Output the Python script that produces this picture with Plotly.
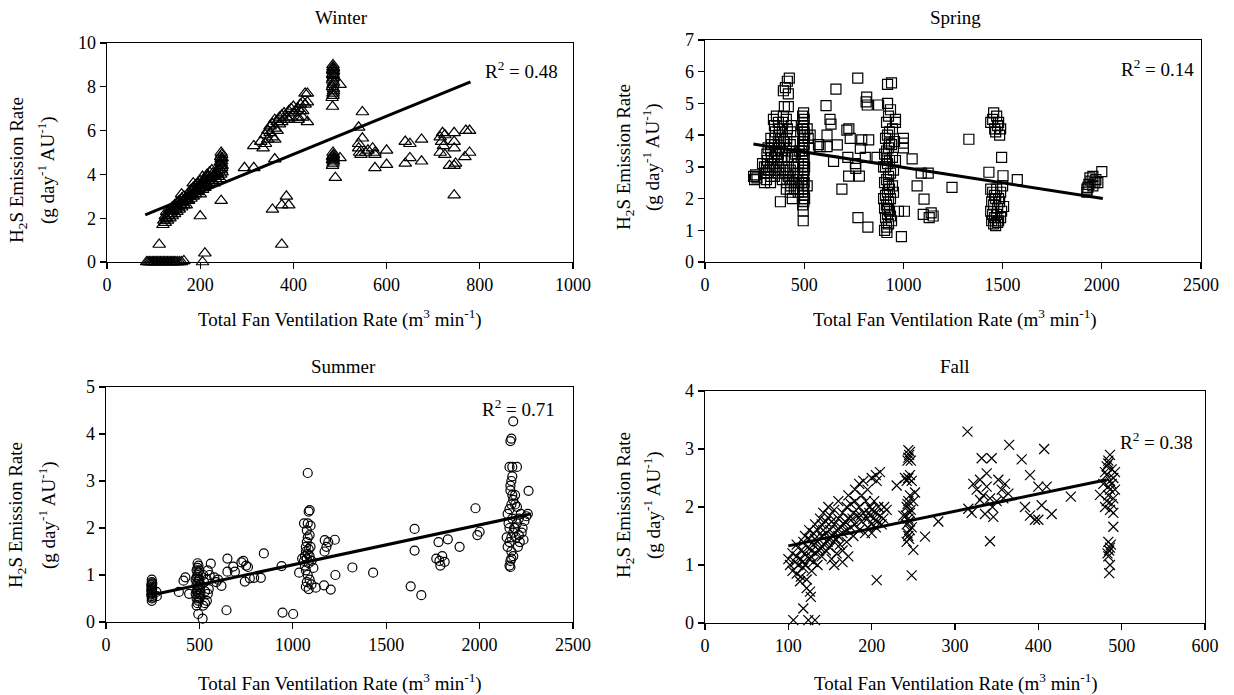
import plotly.graph_objects as go

# ---------------- data ----------------
winter_pts = [
    (85, 0), (88, 0), (91, 0), (94, 0), (97, 0), (100, 0), (103, 0), (106, 0), (109, 0), (112, 0),
    (115, 0), (118, 0), (121, 0), (124, 0), (127, 0), (130, 0), (133, 0), (136, 0), (139, 0), (142, 0),
    (145, 0), (148, 0), (152, 0), (156, 0), (160, 0), (165, 0.05), (205, 0),
    (112, 0.8), (210, 0.4), (200, 2.1), (245, 2.8), (375, 0.8),
    (120, 1.7), (122, 1.9), (125, 2.1), (125, 1.8), (128, 2.0), (128, 2.3), (130, 1.9), (132, 2.2),
    (135, 2.0), (135, 2.4), (138, 2.2), (140, 2.5), (140, 2.1), (143, 2.3), (145, 2.6), (145, 2.2),
    (148, 2.4), (150, 2.7), (150, 2.3), (153, 2.5), (155, 2.8), (155, 2.4), (158, 2.6), (160, 2.9),
    (160, 2.5), (163, 2.7), (165, 3.0), (165, 2.6), (168, 2.8), (170, 2.9), (170, 2.6), (173, 3.0),
    (175, 2.8), (178, 3.1), (180, 2.9), (180, 3.3), (183, 3.1), (185, 3.4), (185, 3.0), (188, 3.2),
    (190, 3.5), (190, 3.1), (193, 3.3), (195, 3.6), (195, 3.2), (198, 3.4), (200, 3.7), (200, 3.1),
    (202, 3.5), (205, 3.9), (205, 3.3), (208, 3.6), (210, 3.4), (210, 3.8), (213, 3.6), (215, 4.0),
    (215, 3.5), (218, 3.7), (220, 4.1), (220, 3.6), (223, 3.8), (225, 4.2), (225, 3.7), (228, 3.9),
    (230, 4.0), (230, 3.6), (233, 3.8), (235, 4.1), (238, 3.9), (240, 4.2),
    (126, 2.0), (133, 2.1), (142, 2.35), (152, 2.55), (162, 2.75), (172, 2.85), (182, 3.05),
    (192, 3.25), (203, 3.45), (212, 3.65), (222, 3.85), (232, 3.95),
    (137, 2.3), (147, 2.5), (157, 2.7), (167, 2.9), (177, 3.0), (187, 3.35), (197, 3.5),
    (207, 3.75), (217, 3.9), (227, 4.05), (237, 4.05), (160, 3.1), (185, 3.6),
    (243, 3.8), (244, 4.0), (245, 4.2), (246, 4.3), (244, 4.4), (245, 4.5), (246, 4.6), (245, 4.7),
    (244, 4.8), (246, 4.9), (245, 5.0), (247, 4.1), (247, 4.4), (243, 4.55), (247, 4.75),
    (295, 4.3), (315, 4.3), (360, 4.7), (355, 2.4), (375, 2.6), (385, 3.0), (390, 2.6),
    (315, 5.3), (330, 5.5), (335, 5.2), (340, 5.4), (340, 5.8), (345, 5.6), (345, 6.0), (350, 6.2),
    (350, 5.9), (355, 6.3), (355, 5.7), (360, 6.5), (360, 6.1), (360, 5.6), (365, 6.4), (365, 6.0),
    (370, 6.6), (370, 6.3), (375, 6.7), (375, 6.4), (380, 6.5), (380, 6.8), (385, 6.6), (390, 6.9),
    (390, 6.5), (395, 7.0), (395, 6.6), (400, 6.8), (400, 7.1), (405, 6.9), (410, 7.0), (410, 6.6),
    (410, 6.5), (415, 7.2), (415, 6.9), (420, 7.3), (420, 6.9), (420, 6.6), (425, 7.7), (425, 7.2),
    (430, 7.7), (430, 7.3), (430, 6.4),
    (483, 7.5), (485, 7.6), (486, 7.8), (484, 8.0), (485, 8.1), (486, 8.2), (484, 8.3), (485, 8.4),
    (486, 8.5), (484, 8.55), (485, 8.6), (486, 8.7), (484, 8.75), (485, 8.8), (486, 8.85), (485, 8.9),
    (485, 9.0), (484, 7.1), (485, 7.7), (486, 7.9), (500, 8.1),
    (484, 4.4), (485, 4.5), (486, 4.6), (484, 4.65), (485, 4.7), (486, 4.75), (484, 4.8), (485, 4.85),
    (486, 4.9), (485, 5.0), (490, 3.85), (500, 4.75),
    (540, 6.15), (548, 6.85), (548, 5.65), (540, 5.4), (540, 5.2), (542, 5.0), (545, 4.9), (555, 5.0),
    (560, 5.1), (570, 5.2), (575, 5.0), (575, 4.9), (575, 4.3), (600, 5.1), (600, 4.45), (640, 5.5),
    (650, 5.4), (650, 4.75), (640, 4.5), (675, 5.6), (675, 4.6),
    (715, 5.7), (720, 5.9), (725, 5.8), (718, 5.5), (722, 5.3), (715, 5.0), (725, 4.9), (745, 5.9),
    (745, 5.5), (745, 5.2), (735, 4.4), (745, 4.4), (748, 4.5), (745, 3.05), (770, 6.0), (778, 6.0),
    (768, 4.8), (778, 5.0),
]
winter_fit_x = [82, 780]
winter_fit_y = [2.15, 8.22]

spring_pts = [
    (245, 2.7), (250, 2.6), (255, 2.75), (262, 2.65), (300, 2.5), (300, 2.8), (300, 3.0), (290, 3.1),
    (310, 2.6), (312, 2.8), (310, 3.0), (315, 3.2), (312, 3.4), (318, 3.6),
    (330, 2.5), (332, 2.7), (328, 2.9), (330, 3.1), (335, 3.3), (330, 3.5), (335, 3.7), (332, 3.9),
    (350, 2.7), (352, 2.9), (348, 3.1), (350, 3.3), (355, 3.5), (350, 3.7), (352, 3.9), (355, 4.1), (350, 4.3),
    (370, 2.8), (372, 3.0), (368, 3.2), (370, 3.4), (375, 3.6), (370, 3.8), (372, 4.0), (375, 4.2), (370, 4.4),
    (390, 2.6), (392, 2.9), (388, 3.2), (390, 3.5), (395, 3.8), (390, 4.1), (392, 4.4), (395, 4.6),
    (410, 2.3), (412, 2.5), (408, 2.8), (410, 3.0), (415, 3.3), (410, 3.6), (412, 3.9), (415, 4.2), (410, 4.5),
    (430, 2.2), (432, 2.4), (428, 2.6), (430, 2.9), (435, 3.3), (430, 3.7), (432, 4.1), (435, 4.3),
    (450, 2.3), (452, 2.5), (448, 2.7), (450, 3.0), (455, 3.4), (450, 3.8),
    (470, 2.2), (472, 2.5), (468, 2.8), (470, 3.1), (475, 3.5),
    (340, 3.0), (360, 3.4), (380, 3.9), (400, 3.3), (420, 2.7), (440, 3.5), (460, 2.6), (320, 2.9),
    (400, 4.9), (420, 4.9), (395, 5.4), (405, 5.5), (415, 5.7), (425, 5.8), (420, 5.3), (380, 1.9),
    (440, 2.0), (345, 4.5), (360, 4.6),
    (495, 1.3), (495, 1.6), (492, 1.8), (498, 1.9), (494, 2.0), (500, 2.1), (492, 2.2), (497, 2.3),
    (494, 2.4), (500, 2.5), (492, 2.6), (497, 2.7), (494, 2.8), (500, 2.9), (492, 3.0), (497, 3.1),
    (494, 3.2), (500, 3.3), (492, 3.4), (497, 3.5), (494, 3.6), (500, 3.7), (492, 3.8), (497, 3.9),
    (494, 4.0), (500, 4.1), (492, 4.2), (497, 4.3), (494, 4.4), (500, 4.5), (492, 4.6), (497, 4.7),
    (502, 2.0), (502, 3.0), (502, 4.0), (488, 2.5), (488, 3.5),
    (515, 4.2), (520, 3.9), (525, 3.6), (530, 4.0), (515, 2.4),
    (770, 5.8), (660, 5.45), (610, 4.93), (630, 4.5), (635, 4.35), (615, 4.0), (572, 3.7), (580, 3.64),
    (615, 3.64), (667, 3.69), (715, 4.16), (725, 4.2), (732, 3.9), (790, 3.85), (825, 3.85), (783, 3.58),
    (720, 3.3), (648, 3.17), (758, 3.1), (760, 2.95), (724, 2.71), (778, 2.71), (690, 2.3), (815, 5.2),
    (812, 5.05), (818, 4.95), (875, 4.95), (920, 5.6), (940, 5.65), (960, 4.5), (808, 3.3), (867, 3.3),
    (771, 1.4), (821, 1.1), (1000, 3.9), (1000, 3.75), (1000, 3.6), (1044, 3.25), (975, 1.6), (1005, 1.6),
    (1069, 2.4), (1090, 2.8), (1125, 2.8), (1104, 1.98), (1100, 1.5), (1130, 1.4), (1140, 1.55),
    (1150, 1.45), (1245, 2.35), (1330, 3.87), (1495, 3.3), (1431, 2.83), (1502, 2.72), (1574, 2.6),
    (990, 0.8), (917, 0.93),
    (905, 1.0), (915, 1.1), (925, 1.2), (910, 1.4), (920, 1.5), (930, 1.6), (905, 1.7), (915, 1.8),
    (925, 1.9), (935, 2.0), (910, 2.1), (920, 2.2), (930, 2.3), (945, 2.4), (905, 2.5), (915, 2.6),
    (925, 2.7), (935, 2.8), (950, 2.9), (910, 3.0), (920, 3.1), (930, 3.2), (945, 3.3), (905, 3.4),
    (915, 3.5), (925, 3.6), (940, 3.7), (955, 3.8), (910, 3.9), (920, 4.0), (930, 4.1), (945, 4.2),
    (915, 4.4), (925, 4.6), (935, 4.8), (920, 5.0), (900, 3.0), (960, 3.2), (950, 2.2), (900, 2.0),
    (960, 4.4), (940, 1.3), (925, 2.45), (915, 3.25), (930, 3.75), (920, 1.65), (935, 1.45),
    (1440, 4.4), (1455, 4.7), (1470, 4.6), (1480, 4.4), (1460, 4.2), (1475, 4.3), (1490, 4.2),
    (1450, 4.5), (1465, 4.1), (1485, 4.0),
    (1440, 2.3), (1450, 2.2), (1460, 2.1), (1470, 2.3), (1480, 2.0), (1490, 2.2), (1445, 1.9),
    (1455, 1.8), (1465, 2.0), (1475, 1.7), (1485, 1.9), (1440, 1.6), (1450, 1.5), (1460, 1.4),
    (1470, 1.5), (1480, 1.3), (1490, 1.4), (1445, 1.3), (1455, 1.2), (1465, 1.15), (1475, 1.25),
    (1500, 2.4), (1495, 1.6), (1505, 1.75),
    (1925, 2.3), (1935, 2.45), (1945, 2.55), (1955, 2.4), (1965, 2.5), (1940, 2.65), (1955, 2.7),
    (1970, 2.6), (1930, 2.35), (1980, 2.5), (2000, 2.85), (1925, 2.2),
]
spring_fit_x = [244, 2005]
spring_fit_y = [3.72, 2.0]

summer_pts = [
    (245, 0.45), (245, 0.5), (245, 0.55), (245, 0.6), (245, 0.65), (245, 0.7), (245, 0.75), (245, 0.8),
    (245, 0.85), (245, 0.9), (248, 0.52), (248, 0.62), (248, 0.72), (248, 0.82), (242, 0.58),
    (242, 0.68), (242, 0.78),
    (270, 0.64), (272, 0.55), (390, 0.64), (415, 0.88), (425, 0.95), (445, 0.6),
    (485, 0.35), (490, 0.4), (495, 0.45), (485, 0.5), (490, 0.55), (495, 0.6), (485, 0.65), (490, 0.7),
    (495, 0.75), (485, 0.8), (490, 0.85), (495, 0.9), (485, 0.95), (490, 1.0), (495, 1.05), (485, 1.1),
    (490, 1.15), (495, 1.2), (490, 1.25), (500, 0.5), (500, 0.7), (500, 0.9), (500, 1.1), (480, 0.6),
    (480, 0.9), (505, 0.8), (505, 0.6),
    (494, 0.17), (517, 0.07), (520, 0.35), (530, 0.4), (540, 0.45), (545, 0.6), (550, 0.7), (540, 0.9),
    (555, 1.0), (545, 1.1), (561, 1.24), (580, 0.95), (600, 0.9), (590, 0.85), (525, 0.85), (520, 1.0),
    (530, 0.65),
    (618, 0.77), (645, 0.25), (650, 1.35), (650, 1.07), (681, 1.18), (690, 1.07), (725, 1.27),
    (735, 1.3), (750, 1.2), (760, 1.17), (743, 0.86), (770, 0.93), (793, 0.94), (829, 0.94),
    (845, 1.46), (940, 1.19), (945, 0.2), (1002, 0.17), (1034, 1.05),
    (1060, 1.3), (1065, 1.4), (1070, 1.5), (1075, 1.35), (1080, 1.45), (1085, 1.55), (1070, 1.6),
    (1075, 1.7), (1080, 1.8), (1085, 1.25), (1090, 1.4), (1065, 1.2), (1070, 1.1), (1080, 1.0),
    (1090, 0.9), (1075, 0.85), (1085, 0.7), (1070, 0.75), (1095, 1.6), (1100, 1.3), (1090, 1.85),
    (1075, 1.95), (1080, 2.1), (1085, 2.35), (1090, 2.38), (1080, 3.17), (1095, 2.05), (1050, 1.35),
    (1110, 1.15), (1100, 0.8), (1060, 2.1),
    (1123, 0.73), (1167, 0.78), (1203, 0.69), (1171, 1.74), (1180, 1.6), (1190, 1.7), (1225, 1.75),
    (1170, 1.5), (1228, 1.0), (1319, 1.16), (1430, 1.05),
    (1652, 1.98), (1652, 1.52), (1631, 0.76), (1688, 0.57), (1768, 1.35), (1785, 1.3), (1790, 1.2),
    (1800, 1.4), (1813, 1.28), (1780, 1.7), (1830, 1.76), (1893, 1.6), (1978, 2.42), (1988, 1.85),
    (2000, 1.92),
    (2150, 1.6), (2160, 1.7), (2170, 1.8), (2180, 1.9), (2190, 2.0), (2200, 2.1), (2210, 2.2),
    (2150, 2.3), (2160, 2.4), (2170, 2.5), (2180, 2.6), (2190, 2.7), (2165, 2.8), (2175, 2.2),
    (2185, 2.0), (2195, 1.8), (2205, 1.6), (2215, 1.7), (2225, 1.9), (2235, 1.75), (2240, 2.15),
    (2220, 2.3), (2230, 2.0), (2160, 2.0), (2170, 1.5), (2180, 1.4), (2165, 1.3), (2155, 2.1),
    (2145, 1.8), (2175, 2.7), (2170, 3.0), (2175, 3.3), (2200, 3.3), (2160, 3.3), (2165, 3.85),
    (2170, 3.9), (2180, 4.27), (2165, 2.9), (2175, 3.1), (2160, 1.2), (2165, 1.17), (2170, 1.35),
    (2190, 2.5), (2262, 2.79), (2258, 2.3), (2250, 2.25), (2200, 2.45), (2210, 1.85),
]
summer_fit_x = [250, 2275]
summer_fit_y = [0.58, 2.3]

fall_pts = [
    (106, 0.05), (124, 0.05), (132, 0.05), (118, 0.25), (127, 0.45), (126, 0.54), (114, 0.72), (122, 0.6),
    (100, 1.1), (102, 1.0), (105, 0.9), (105, 1.2), (108, 1.05), (110, 0.85), (110, 1.15), (110, 1.35),
    (112, 1.0), (115, 0.8), (115, 1.1), (115, 1.25), (118, 1.4), (118, 0.95), (120, 1.2), (120, 1.0),
    (120, 1.5), (122, 0.75), (123, 1.3), (125, 1.1), (125, 1.45), (125, 1.6), (128, 0.9), (128, 1.25),
    (130, 1.35), (130, 1.55), (130, 1.05), (132, 1.7), (133, 1.2), (135, 1.4), (135, 1.0), (135, 1.6),
    (138, 1.3), (138, 1.8), (140, 1.5), (140, 1.15), (140, 1.7), (142, 1.9), (143, 1.35), (145, 1.55),
    (145, 1.25), (145, 1.75), (148, 1.45), (148, 2.0), (150, 1.6), (150, 1.3), (150, 1.85), (152, 1.1),
    (153, 1.5), (155, 1.7), (155, 1.4), (155, 1.95), (155, 1.0), (158, 1.6), (158, 1.2), (160, 1.8),
    (160, 1.5), (160, 2.1), (162, 1.35), (163, 1.65), (165, 1.9), (165, 1.55), (165, 1.25), (165, 1.05),
    (168, 1.75), (170, 2.0), (170, 1.6), (170, 1.4), (172, 2.2), (172, 1.15), (173, 1.8), (175, 1.65),
    (175, 2.05), (178, 1.5), (178, 1.9), (180, 2.3), (180, 1.7), (180, 2.1), (183, 1.85), (185, 2.4),
    (185, 1.6), (185, 2.0), (188, 2.2), (188, 1.75), (190, 1.9), (190, 2.45), (192, 1.55), (193, 2.1),
    (195, 1.8), (195, 2.3), (195, 1.65), (198, 2.0), (198, 1.85), (200, 1.7), (200, 1.95), (200, 2.5),
    (200, 1.55), (202, 1.8), (203, 2.1), (205, 1.9), (205, 1.65), (205, 2.55), (207, 1.75), (208, 2.0),
    (210, 1.85), (210, 2.6), (212, 1.7), (215, 2.0), (214, 1.8), (206, 2.45),
    (117, 1.05), (127, 1.15), (137, 1.25), (147, 1.4), (157, 1.45), (167, 1.7), (177, 1.8),
    (187, 1.85), (197, 1.9), (132, 1.45), (142, 1.6), (152, 1.75),
    (206, 0.74), (230, 2.37), (218, 1.95),
    (242, 1.4), (244, 1.5), (246, 1.6), (242, 1.7), (244, 1.8), (246, 1.9), (242, 2.0), (244, 2.1),
    (246, 2.2), (243, 1.55), (245, 1.75), (247, 1.95), (243, 2.05), (245, 1.45), (241, 1.85),
    (248, 1.65), (242, 2.45), (244, 2.5), (246, 2.55), (248, 2.45), (243, 2.8), (244, 2.85),
    (245, 2.9), (246, 2.95), (247, 2.8), (244, 2.98), (252, 2.25), (250, 1.26), (248, 0.82),
    (238, 1.85), (250, 2.1), (240, 2.5),
    (264, 1.49), (280, 1.75), (315, 3.3), (316, 1.97), (320, 1.9),
    (322, 2.4), (326, 2.3), (330, 2.47), (334, 2.2), (338, 2.35), (342, 2.15), (330, 2.12), (332, 2.84),
    (344, 2.84), (338, 2.58), (342, 1.41), (336, 1.88), (346, 1.83), (352, 2.47), (356, 2.3),
    (360, 2.4), (364, 2.23), (358, 2.15), (365, 3.07), (380, 2.82), (390, 2.55), (384, 2.0),
    (390, 1.85), (396, 1.78), (400, 1.78), (404, 2.03), (400, 2.35), (410, 2.35), (407, 3.0),
    (416, 1.88), (439, 2.18), (474, 2.21), (350, 2.1), (345, 2.0),
    (480, 2.0), (482, 2.1), (484, 2.2), (486, 2.3), (488, 2.4), (490, 2.5), (480, 2.6), (482, 2.7),
    (484, 2.8), (486, 2.9), (488, 2.05), (490, 2.15), (484, 2.35), (486, 2.45), (482, 2.55),
    (488, 2.65), (484, 2.75), (486, 1.95), (490, 1.9), (492, 2.3), (478, 2.4), (492, 2.6),
    (490, 1.66), (484, 1.4), (486, 1.3), (485, 1.25), (484, 1.15), (486, 1.0), (485, 0.86),
    (487, 1.35), (483, 1.2),
]
fall_fit_x = [100, 482]
fall_fit_y = [1.33, 2.47]

seasons = ["Winter", "Spring", "Summer", "Fall"]
r2_labels = ["R<sup>2</sup> = 0.48", "R<sup>2</sup> = 0.14", "R<sup>2</sup> = 0.71", "R<sup>2</sup> = 0.38"]
x_ranges = [[0, 1000], [0, 2500], [0, 2500], [0, 600]]
x_dticks = [200, 500, 500, 100]
y_ranges = [[0, 10], [0, 7], [0, 5], [0, 4]]
y_dticks = [2, 1, 1, 1]
symbols = ["triangle-up-open", "square-open", "circle-open", "x-thin-open"]
marker_sizes = [11, 10, 9, 10]

# ---------------- layout geometry (pixels) ----------------
W, H = 1234, 695
# plot boxes: left, right, top, bottom (px)
boxes = [(107, 573, 43, 262), (705, 1201, 40, 262), (106, 573, 387, 622), (705, 1205, 391, 623)]

def px(x):
    return x / W

def py(y):
    return 1 - y / H

FONT = "Liberation Serif, Times New Roman, serif"
fig = go.Figure()

all_pts = [winter_pts, spring_pts, summer_pts, fall_pts]
fits = [(winter_fit_x, winter_fit_y), (spring_fit_x, spring_fit_y),
        (summer_fit_x, summer_fit_y), (fall_fit_x, fall_fit_y)]

for i in range(4):
    xa = "x" if i == 0 else f"x{i+1}"
    ya = "y" if i == 0 else f"y{i+1}"
    pts = all_pts[i]
    fig.add_trace(go.Scatter(
        x=[p[0] for p in pts], y=[p[1] for p in pts], mode="markers",
        marker=dict(symbol=symbols[i], size=marker_sizes[i], color="black",
                    line=dict(color="black", width=1.2)),
        xaxis=xa, yaxis=ya, showlegend=False, cliponaxis=False))
    fig.add_trace(go.Scatter(
        x=fits[i][0], y=fits[i][1], mode="lines",
        line=dict(color="black", width=3), xaxis=xa, yaxis=ya, showlegend=False))

layout = dict(
    width=W, height=H, margin=dict(l=0, r=0, t=0, b=0, autoexpand=False),
    paper_bgcolor="white", plot_bgcolor="white",
    font=dict(family=FONT, size=18, color="black"),
)
for i in range(4):
    l, r, t, b = boxes[i]
    xk = "xaxis" if i == 0 else f"xaxis{i+1}"
    yk = "yaxis" if i == 0 else f"yaxis{i+1}"
    ya = "y" if i == 0 else f"y{i+1}"
    xa = "x" if i == 0 else f"x{i+1}"
    layout[xk] = dict(domain=[px(l), px(r)], range=x_ranges[i], dtick=x_dticks[i], tick0=0,
                      anchor=ya, showgrid=False, zeroline=False, showline=True, mirror=True,
                      automargin=False,
                      linecolor="black", linewidth=1.3, ticks="outside", ticklen=6,
                      tickwidth=1.3, tickcolor="black",
                      tickfont=dict(family=FONT, size=18, color="black"))
    layout[yk] = dict(domain=[py(b), py(t)], range=y_ranges[i], dtick=y_dticks[i], tick0=0,
                      anchor=xa, showgrid=False, zeroline=False, showline=True, mirror=True,
                      automargin=False,
                      linecolor="black", linewidth=1.3, ticks="outside", ticklen=6,
                      tickwidth=1.3, tickcolor="black",
                      tickfont=dict(family=FONT, size=18, color="black"))
fig.update_layout(**layout)

# ---------------- text ----------------
title_pos = [(342, 17), (955, 17), (343, 366), (955, 366)]
xtitle_pos = [(340, 318), (955, 318), (340, 682), (956, 682)]
ytitle1_pos = [(18, 170), (625, 157), (17, 515), (625, 505)]
ytitle2_pos = [(46, 170), (652, 157), (47, 515), (652, 505)]
r2_pos = [(560, 70), (1196, 68), (557, 408), (1195, 441)]

xtitle = "Total Fan Ventilation Rate (m<sup>3</sup> min<sup>-1</sup>)"
ytitle1 = "H<sub>2</sub>S Emission Rate"
ytitle2 = "(g day<sup>-1</sup> AU<sup>-1</sup>)"
TS = 19

ann = []
for i in range(4):
    ann.append(dict(text=seasons[i], x=px(title_pos[i][0]), y=py(title_pos[i][1]), xref="paper",
                    yref="paper", showarrow=False, xanchor="center", yanchor="middle",
                    font=dict(family=FONT, size=TS)))
    ann.append(dict(text=xtitle, x=px(xtitle_pos[i][0]), y=py(xtitle_pos[i][1]), xref="paper",
                    yref="paper", showarrow=False, xanchor="center", yanchor="middle",
                    font=dict(family=FONT, size=TS)))
    ann.append(dict(text=ytitle1, x=px(ytitle1_pos[i][0]), y=py(ytitle1_pos[i][1]), xref="paper",
                    yref="paper", showarrow=False, xanchor="center", yanchor="middle",
                    textangle=-90, font=dict(family=FONT, size=TS)))
    ann.append(dict(text=ytitle2, x=px(ytitle2_pos[i][0]), y=py(ytitle2_pos[i][1]), xref="paper",
                    yref="paper", showarrow=False, xanchor="center", yanchor="middle",
                    textangle=-90, font=dict(family=FONT, size=TS)))
    ann.append(dict(text=r2_labels[i], x=px(r2_pos[i][0]), y=py(r2_pos[i][1]), xref="paper",
                    yref="paper", showarrow=False, xanchor="right", yanchor="middle",
                    font=dict(family=FONT, size=TS)))
fig.update_layout(annotations=ann)

fig.write_html("out.html", config={"displayModeBar": False, "staticPlot": True},
               post_script="document.body.style.margin='0';document.body.style.overflow='hidden';")
